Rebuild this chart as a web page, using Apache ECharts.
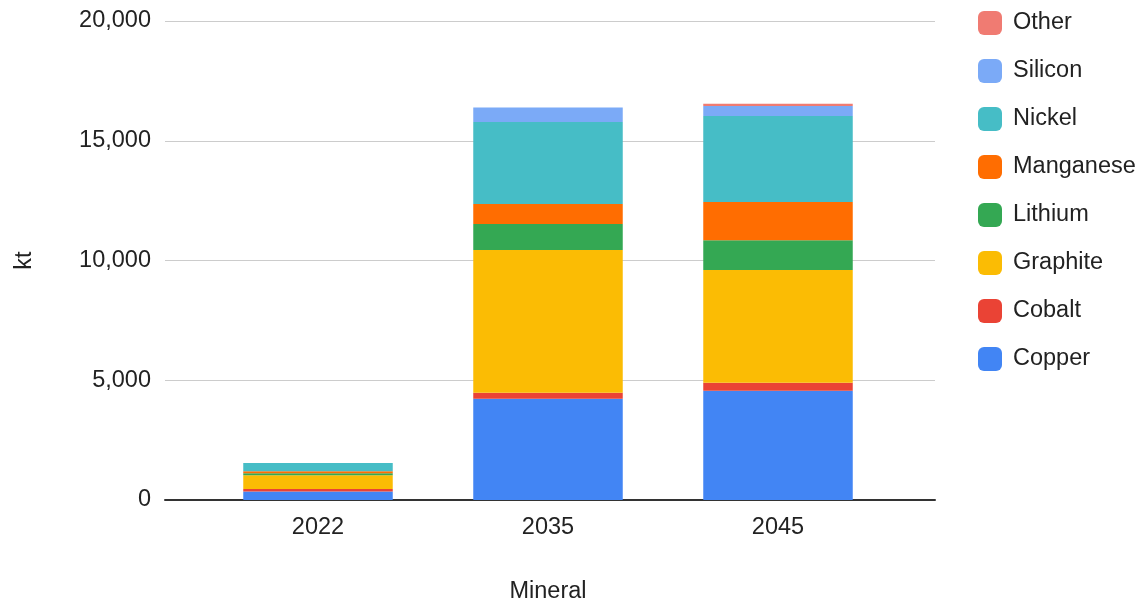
<!DOCTYPE html>
<html>
<head>
<meta charset="utf-8">
<script src="https://cdn.jsdelivr.net/npm/echarts@6/dist/echarts.min.js"></script>
<style>
  html, body { margin: 0; padding: 0; background: #fff; }
  #chart { width: 1145px; height: 601px; }
</style>
</head>
<body>
<div id="chart"></div>
<script>
// Years on the category axis
const years = ['2022', '2035', '2045'];

// Mineral demand by year, kt (stacked bottom to top)
const copper    = [360, 4230, 4565];
const cobalt    = [100, 250, 335];
const graphite  = [570, 5960, 4705];
const lithium   = [85, 1085, 1240];
const manganese = [85, 835, 1600];
const nickel    = [345, 3425, 3590];
const silicon   = [0, 600, 420];
const other     = [0, 0, 95];

const seriesNames  = ['Copper', 'Cobalt', 'Graphite', 'Lithium', 'Manganese', 'Nickel', 'Silicon', 'Other'];
const seriesValues = [copper, cobalt, graphite, lithium, manganese, nickel, silicon, other];
const seriesColors = ['#4285F4', '#EA4335', '#FBBC04', '#34A853', '#FF6D01', '#46BDC6', '#7BAAF7', '#F07B72'];

const FONT = '"Liberation Sans", Arial, sans-serif';
const TEXT = '#222222';
const FS = 23.5;

const Y_MIN = 0, Y_MAX = 20000, Y_STEP = 5000;

const chart = echarts.init(document.getElementById('chart'), null, { renderer: 'canvas' });

chart.setOption({
  animation: false,
  backgroundColor: '#ffffff',
  textStyle: { fontFamily: FONT },
  grid: [
    // frame: gridlines, value labels and baseline
    { left: 165, right: 210, top: 21, bottom: 101, containLabel: false, outerBoundsMode: 'none' },
    // bars, inset from the frame edges
    { left: 203, right: 252, top: 21, bottom: 101, containLabel: false, outerBoundsMode: 'none' }
  ],
  legend: {
    orient: 'vertical',
    left: 973,
    top: 6,
    data: seriesNames.slice().reverse(),
    icon: 'roundRect',
    itemWidth: 24,
    itemHeight: 24,
    itemGap: 24,
    textStyle: { fontSize: FS, color: TEXT, fontFamily: FONT, padding: [0, 0, 0, 6] }
  },
  xAxis: [
    {
      gridIndex: 0,
      type: 'category',
      data: years,
      axisLine: { lineStyle: { color: '#333333', width: 2 } },
      axisTick: { show: false },
      axisLabel: { show: false },
      splitLine: { show: false }
    },
    {
      gridIndex: 1,
      type: 'category',
      data: years,
      name: 'Mineral',
      nameLocation: 'middle',
      nameGap: 80,
      nameTextStyle: { fontSize: FS, color: TEXT, fontFamily: FONT },
      axisLine: { show: false },
      axisTick: { show: false },
      axisLabel: { fontSize: FS, color: TEXT, margin: 16, fontFamily: FONT }
    }
  ],
  yAxis: [
    {
      gridIndex: 0,
      type: 'value',
      min: Y_MIN,
      max: Y_MAX,
      interval: Y_STEP,
      name: 'kt',
      nameLocation: 'middle',
      nameGap: 128,
      nameRotate: 90,
      nameTextStyle: { fontSize: FS, color: TEXT, fontFamily: FONT },
      axisLine: { show: false },
      axisTick: { show: false },
      splitLine: { lineStyle: { color: '#cccccc', width: 1 } },
      axisLabel: {
        fontSize: FS, color: TEXT, margin: 14, fontFamily: FONT,
        formatter: v => v.toLocaleString('en-US')
      }
    },
    {
      gridIndex: 1,
      type: 'value',
      min: Y_MIN,
      max: Y_MAX,
      interval: Y_STEP,
      show: false,
      splitLine: { show: false }
    }
  ],
  series: seriesNames.map((name, i) => ({
    name,
    type: 'bar',
    stack: 'total',
    xAxisIndex: 1,
    yAxisIndex: 1,
    barWidth: '65%',
    data: seriesValues[i],
    itemStyle: { color: seriesColors[i] }
  }))
});
</script>
</body>
</html>
